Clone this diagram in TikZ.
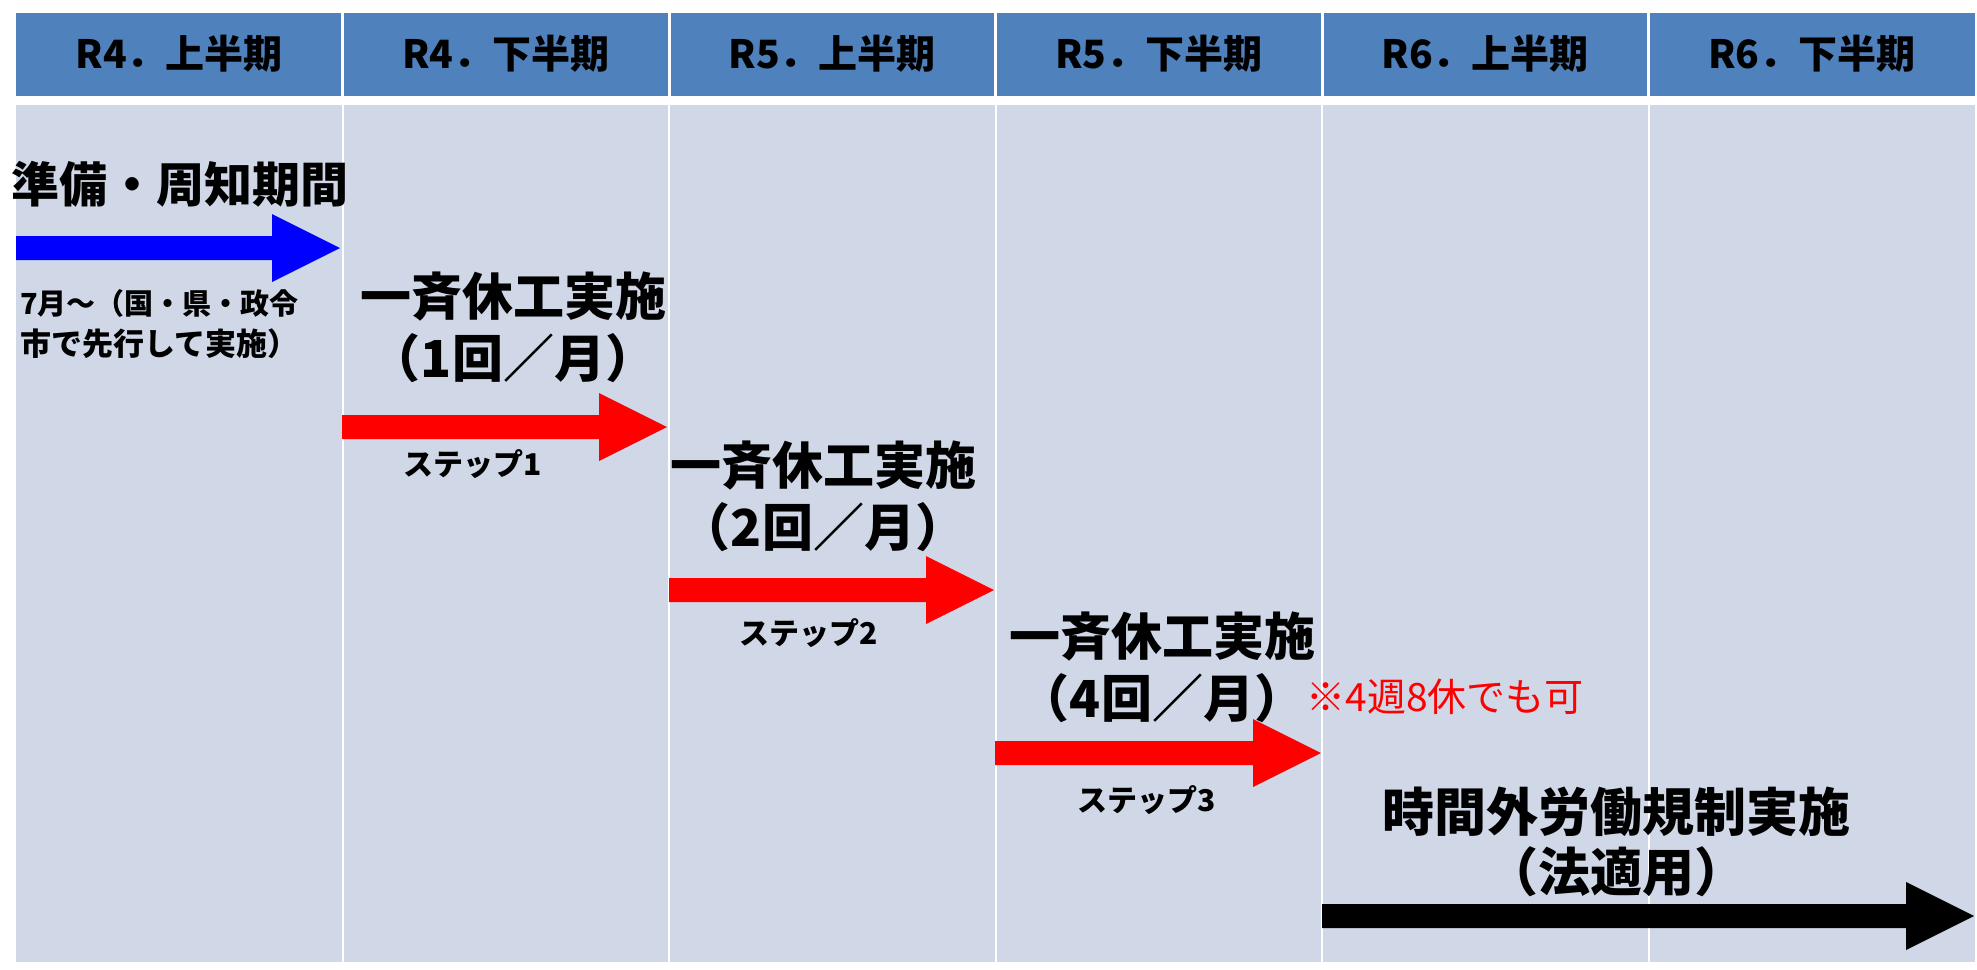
\documentclass[tikz,border=0pt]{standalone}
\usepackage{fontspec}
\setmainfont{Noto Sans CJK JP}
\definecolor{headblue}{HTML}{4F81BD}
\definecolor{bodyblue}{HTML}{D0D8E8}
\tikzset{
    hdrtext/.style={inner sep=0pt, font=\bfseries\fontsize{39}{47}\selectfont},
    bigtext/.style={inner sep=0pt, align=center, font=\bfseries\fontsize{51}{62}\selectfont},
    smalltext/.style={inner sep=0pt, font=\bfseries\fontsize{30}{41}\selectfont},
    notetext/.style={inner sep=0pt, text=red, font=\fontsize{39}{47}\selectfont},
}

\begin{document}
\begin{tikzpicture}[x=1pt, y=-1pt]
    \useasboundingbox (0,0) rectangle (1977,969);
    % table: header row and body row
    \fill[headblue] (16,13) rectangle (1975,96);
    \fill[bodyblue] (16,105) rectangle (1975,962);
    \foreach \i in {1,...,5} {
        \fill[white] (16+\i*326.5-1.5,13) rectangle ++(3,83);
        \fill[white] (16+\i*326.5-1,105) rectangle ++(2,857);
    }
    \foreach \lbl [count=\i from 0] in {R4．上半期, R4．下半期, R5．上半期, R5．下半期, R6．上半期, R6．下半期}
        \node[hdrtext] (hdr\i) at (179.25+326.5*\i, 54) {\lbl};

    % block arrows
    \foreach \clr/\xa/\xb/\yy in {blue/16/340/248, red/342/667/427, red/669/994/590, red/995/1321/753, black/1322/1974/916}
        \fill[\clr] (\xa,\yy-12) -- (\xb-68,\yy-12) -- (\xb-68,\yy-34) -- (\xb,\yy)
            -- (\xb-68,\yy+34) -- (\xb-68,\yy+12) -- (\xa,\yy+12) -- cycle;

    % labels
    \node[inner sep=0pt, font=\bfseries\fontsize{48}{58}\selectfont] (prep) at (180,184) {準備・周知期間};
    \node[smalltext, align=left, anchor=west] (prepnote) at (20,324)
        {{\fontsize{29}{41}\selectfont 7月～（国・県・政令}\\{\fontsize{31}{41}\selectfont 市で先行して実施）}};
    \node[bigtext] (stage1) at (513,327) {一斉休工実施\\（1回／月）};
    \node[smalltext] (step1) at (473,464) {ステップ1};
    \node[bigtext] (stage2) at (823,496) {一斉休工実施\\（2回／月）};
    \node[smalltext] (step2) at (809,633) {ステップ2};
    \node[bigtext] (stage3) at (1162,667) {一斉休工実施\\（4回／月）};
    \node[notetext] (note) at (1445,697) {※4週8休でも可};
    \node[smalltext] (step3) at (1147,800) {ステップ3};
    \node[bigtext, font=\bfseries\fontsize{52}{60}\selectfont] (law) at (1616,842) {時間外労働規制実施\\（法適用）};
\end{tikzpicture}
\end{document}
